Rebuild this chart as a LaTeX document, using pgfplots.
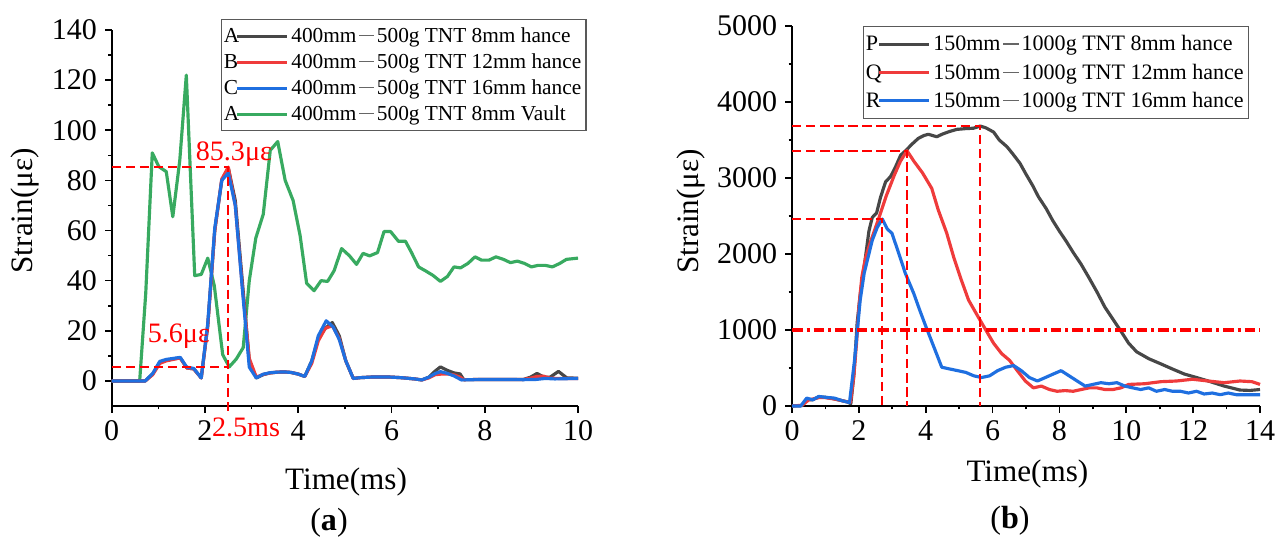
\documentclass[border=0pt]{standalone}
\usepackage{fontspec}
\setmainfont{Liberation Serif}
\usepackage{pgfplots}
\pgfplotsset{compat=1.18}

\definecolor{cBlk}{HTML}{474747}
\definecolor{cRed}{HTML}{EF3B3B}
\definecolor{cBlu}{HTML}{1F6FE0}
\definecolor{cGrn}{HTML}{38AA60}

\pgfplotsset{
  lg/.style={legend image code/.code={%
      \node[anchor=west,inner xsep=0pt,text=black] at (0cm,0cm) {#1};
      \draw[##1, line width=1.35pt] (0.225cm,0cm) -- (0.975cm,0cm);}},
  strainax/.style={
    scale only axis, clip=false,
    axis x line*=bottom, axis y line*=left,
    axis line style={line width=0.7pt},
    tick align=outside,
    major tick length=2.8pt, minor tick length=1.4pt,
    every tick/.style={black,line width=0.7pt},
    minor x tick num=1, minor y tick num=1,
    scaled ticks=false,
    /pgf/number format/1000 sep={},
    /pgf/number format/assume math mode=true,
    tick label style={font=\fontsize{12.8}{15}\selectfont},
    label style={font=\fontsize{13.3}{15}\selectfont},
    legend cell align=left,
  },
  dat/.style={line width=1.35pt, line join=round},
  refline/.style={red, line width=0.9pt, dash pattern=on 4pt off 2pt, forget plot},
}
\newcommand{\dsh}{\kern0.12em{\color{black!60}\rule[0.27em]{0.72em}{0.07em}}\kern0.12em}

\begin{document}
\begin{tikzpicture}
\useasboundingbox (0,0) rectangle (19.23,8.07);

% ---------------- (a)
\begin{axis}[strainax,
  at={(1.6755cm,1.98cm)}, anchor=south west,
  width=6.995cm, height=5.64cm,
  xmin=0, xmax=10, ymin=-10, ymax=140,
  xtick={0,2,...,10}, ytick={0,20,...,140},
  xlabel={Time(ms)}, ylabel={Strain(με)},
  xlabel style={at={(axis description cs:0.5025,-0.202)}, anchor=center},
  ylabel style={at={(axis description cs:-0.186,0.519)}, anchor=center},
  legend style={at={(1.0182,1.0293)}, anchor=north east,
    draw=black!65, line width=0.5pt, inner xsep=1pt, inner ysep=1.5pt,
    font=\fontsize{9.1}{11}\selectfont,
    nodes={inner xsep=1pt, inner ysep=0pt, text height=8.1pt, text depth=3pt}},
]
\addplot[dat, cGrn, forget plot] coordinates {
(0,0) (0.6,0) (0.73,35) (0.87,91) (1.01,85.5) (1.17,83.5) (1.31,65.5) (1.46,88)
(1.6,122) (1.78,42) (1.92,42.5) (2.06,49) (2.2,38) (2.38,10.5) (2.52,5.6) (2.67,8.7)
(2.82,13.3) (2.95,40) (3.09,57) (3.25,66.5) (3.4,92) (3.56,95.5) (3.72,80) (3.89,72)
(4.04,58) (4.18,39) (4.34,36) (4.49,40) (4.63,39.7) (4.77,44) (4.93,52.8) (5.1,49.9)
(5.25,46.5) (5.39,50.9) (5.53,49.9) (5.7,51.2) (5.84,59.6) (5.98,59.6) (6.15,55.7)
(6.3,55.7) (6.43,51.2) (6.58,45.5) (6.74,43.8) (6.89,42.1) (7.05,39.7) (7.2,41.7)
(7.34,45.5) (7.48,45.1) (7.64,46.9) (7.79,49.5) (7.93,48.2) (8.09,48.2) (8.24,49.5)
(8.4,48.5) (8.55,47.2) (8.7,47.8) (8.85,46.9) (9.0,45.5) (9.14,46.1) (9.3,46.1)
(9.45,45.5) (9.61,46.9) (9.75,48.5) (10,49)};
\addplot[dat, cBlk, lg=A] coordinates {
(0,0) (0.3,0) (0.6,0) (0.72,0) (0.88,2.8) (1.03,7.4) (1.17,8.2) (1.32,8.8) (1.47,9.2)
(1.61,5.2) (1.76,4.8) (1.92,1.2) (2.06,22) (2.21,60) (2.36,80) (2.5,85) (2.65,72)
(2.8,40) (2.95,8) (3.1,1.2) (3.25,2.5) (3.4,3.2) (3.55,3.5) (3.7,3.6) (3.84,3.4)
(3.99,2.8) (4.14,1.8) (4.29,8) (4.43,17) (4.58,21) (4.73,23.3) (4.88,18) (5.02,8)
(5.18,1) (5.32,1.3) (5.62,1.6) (5.91,1.6) (6.21,1.3) (6.5,0.8) (6.65,0.4) (6.8,1.5)
(6.94,4) (7.05,5.6) (7.2,4.2) (7.34,3.2) (7.47,2.8) (7.55,0.5) (8,0.6) (8.5,0.6)
(8.83,0.6) (8.98,1.5) (9.12,3) (9.27,1.5) (9.4,1.5) (9.58,3.8) (9.76,1.2) (10,1.1)};
\addlegendentry{400mm\dsh500g TNT 8mm hance}
\addplot[dat, cRed, lg=B] coordinates {
(0,0) (0.3,0) (0.6,0) (0.72,0) (0.88,2.5) (1.03,7) (1.17,8) (1.32,8.6) (1.47,9.2)
(1.61,5.2) (1.76,4.8) (1.92,1.2) (2.06,22) (2.21,60) (2.36,80.5) (2.5,85.3) (2.65,70)
(2.8,38) (2.95,9) (3.1,1.5) (3.25,2.6) (3.4,3.2) (3.55,3.5) (3.7,3.6) (3.84,3.4)
(3.99,2.8) (4.14,1.8) (4.29,7) (4.43,16) (4.58,21) (4.73,22) (4.88,17) (5.02,8)
(5.18,1) (5.32,1.3) (5.62,1.6) (5.91,1.6) (6.21,1.3) (6.5,0.8) (6.65,0.4) (6.8,1.2)
(6.94,2.5) (7.05,2.7) (7.2,2.8) (7.34,2.4) (7.47,1.5) (7.55,0.5) (8,0.6) (8.5,0.6)
(8.83,0.6) (8.98,1.1) (9.12,1.8) (9.26,1.9) (9.4,1.1) (9.58,1) (9.76,1) (10,1)};
\addlegendentry{400mm\dsh500g TNT 12mm hance}
\addplot[dat, cBlu, lg=C] coordinates {
(0,0) (0.3,0) (0.6,0) (0.72,0) (0.88,3) (1.03,7.8) (1.17,8.6) (1.32,9) (1.47,9.4)
(1.61,5.5) (1.76,5) (1.92,1.2) (2.06,23) (2.21,61) (2.36,80) (2.5,83) (2.65,70)
(2.8,37) (2.95,5.5) (3.1,1.2) (3.25,2.7) (3.4,3.3) (3.55,3.5) (3.7,3.6) (3.84,3.4)
(3.99,2.8) (4.14,1.8) (4.29,8) (4.43,18) (4.6,24) (4.75,21.5) (4.88,16.5) (5.02,8)
(5.18,1) (5.32,1.3) (5.62,1.6) (5.91,1.6) (6.21,1.3) (6.5,0.8) (6.65,0.4) (6.8,1.5)
(6.94,3) (7.05,3.7) (7.2,3) (7.34,2) (7.5,0.4) (8,0.6) (8.5,0.6) (8.83,0.5)
(9.1,0.6) (9.3,1) (9.5,0.8) (9.76,0.9) (10,1)};
\addlegendentry{400mm\dsh500g TNT 16mm hance}
\addlegendimage{dat, cGrn, lg=A}
\addlegendentry{400mm\dsh500g TNT 8mm Vault}
\addplot[refline] coordinates {(0,85.3) (2.5,85.3) (2.5,-12)};
\addplot[refline] coordinates {(0,5.6) (2.5,5.6)};
\node[text=red, font=\fontsize{12}{14}\selectfont] at (axis cs:2.62,90.5) {85.3με};
\node[text=red, font=\fontsize{12}{14}\selectfont] at (axis cs:1.44,18) {5.6με};
\node[text=red, font=\fontsize{12}{14}\selectfont] at (axis cs:2.88,-18.6) {2.5ms};
\end{axis}

% ---------------- (b)
\begin{axis}[strainax,
  at={(11.88cm,1.98cm)}, anchor=south west,
  width=7.02cm, height=5.70cm,
  xmin=0, xmax=14, ymin=0, ymax=5000,
  xtick={0,2,...,14}, ytick={0,1000,...,5000},
  xlabel={Time(ms)}, ylabel={Strain(με)},
  xlabel style={at={(axis description cs:0.503,-0.178)}, anchor=center},
  ylabel style={at={(axis description cs:-0.215,0.512)}, anchor=center},
  legend style={at={(0.9765,1.0)}, anchor=north east,
    draw=black!65, line width=0.5pt, inner xsep=1pt, inner ysep=1.5pt,
    font=\fontsize{9.4}{11}\selectfont,
    nodes={inner xsep=1pt, inner ysep=0pt, text height=8.8pt, text depth=3.27pt}},
]
\addplot[dat, cBlk, lg=P] coordinates {
(0,0) (0.3,5) (0.45,90) (0.6,80) (0.8,120) (1.0,115) (1.2,100) (1.45,75) (1.65,55)
(1.76,30) (1.85,400) (1.95,1100) (2.05,1500) (2.18,1900) (2.3,2300) (2.4,2480)
(2.53,2540) (2.65,2750) (2.8,2950) (2.95,3020) (3.1,3150) (3.25,3300) (3.4,3360)
(3.6,3450) (3.78,3522) (3.95,3560) (4.08,3575) (4.33,3543) (4.5,3578) (4.7,3610)
(4.93,3640) (5.2,3650) (5.43,3655) (5.63,3684) (5.8,3660) (6.03,3605) (6.2,3500)
(6.43,3412) (6.6,3320) (6.82,3193) (7.0,3050) (7.2,2900) (7.37,2754) (7.6,2600)
(7.8,2440) (8.0,2300) (8.2,2170) (8.41,2022) (8.65,1864) (8.89,1683) (9.12,1503)
(9.36,1300) (9.6,1142) (9.84,984) (10.07,826) (10.31,713) (10.67,623) (11.03,555)
(11.38,487) (11.74,420) (12.1,375) (12.45,329) (12.93,262) (13.4,210) (13.7,205) (14,217)};
\addlegendentry{150mm\dsh1000g TNT 8mm hance}
\addplot[dat, cRed, lg=Q] coordinates {
(0,0) (0.3,10) (0.5,80) (0.8,110) (1.0,110) (1.3,90) (1.6,60) (1.75,50) (1.85,400)
(1.93,826) (2.0,1300) (2.09,1700) (2.2,1950) (2.34,2150) (2.58,2450) (2.82,2766)
(3.06,3037) (3.24,3218) (3.44,3359) (3.65,3218) (3.9,3070) (4.18,2864) (4.37,2586)
(4.63,2272) (4.84,1954) (5.03,1701) (5.28,1395) (5.55,1187) (5.79,1006) (6.03,826)
(6.27,690) (6.51,600) (6.74,465) (6.98,329) (7.22,239) (7.46,262) (7.7,217) (7.93,194)
(8.17,203) (8.41,194) (8.65,217) (8.89,239) (9.12,239) (9.36,217) (9.6,217) (9.84,239)
(10.07,284) (10.55,293) (11.03,320) (11.5,329) (11.98,352) (12.45,329) (12.93,307)
(13.4,329) (13.76,320) (14,284)};
\addlegendentry{150mm\dsh1000g TNT 12mm hance}
\addplot[dat, cBlu, lg=R] coordinates {
(0,0) (0.26,0) (0.44,104) (0.62,81) (0.8,126) (1.03,113) (1.27,104) (1.51,68) (1.72,45)
(1.87,600) (2.04,1395) (2.16,1750) (2.4,2180) (2.55,2350) (2.7,2460) (2.85,2330)
(2.99,2272) (3.2,2000) (3.39,1746) (3.64,1483) (3.83,1250) (4.0,1051) (4.24,781)
(4.48,510) (4.72,487) (4.96,465) (5.2,442) (5.44,397) (5.67,375) (5.91,397) (6.15,465)
(6.39,510) (6.63,532) (6.86,465) (7.1,375) (7.34,329) (7.58,375) (7.81,420) (8.05,465)
(8.29,397) (8.53,329) (8.77,262) (9.0,284) (9.24,307) (9.48,293) (9.72,307) (9.96,262)
(10.19,239) (10.43,217) (10.67,239) (10.9,194) (11.15,217) (11.38,194) (11.62,194)
(11.86,171) (12.1,194) (12.33,158) (12.57,171) (12.81,149) (13.05,171) (13.29,149)
(13.64,149) (14,149)};
\addlegendentry{150mm\dsh1000g TNT 16mm hance}
\addplot[refline] coordinates {(0,3684) (5.63,3684) (5.63,0)};
\addplot[refline] coordinates {(0,3359) (3.44,3359) (3.44,0)};
\addplot[refline] coordinates {(0,2460) (2.7,2460) (2.7,0)};
\addplot[red, line width=1.3pt, dash pattern=on 4.5pt off 1.7pt on 1.3pt off 1.7pt, forget plot]
  coordinates {(0,1000) (14,1000)};
\end{axis}

\node[font=\fontsize{13.7}{15}\selectfont] at (4.935,0.225) {(\textbf{a})};
\node[font=\fontsize{13.7}{15}\selectfont] at (15.15,0.255) {(\textbf{b})};
\end{tikzpicture}
\end{document}
